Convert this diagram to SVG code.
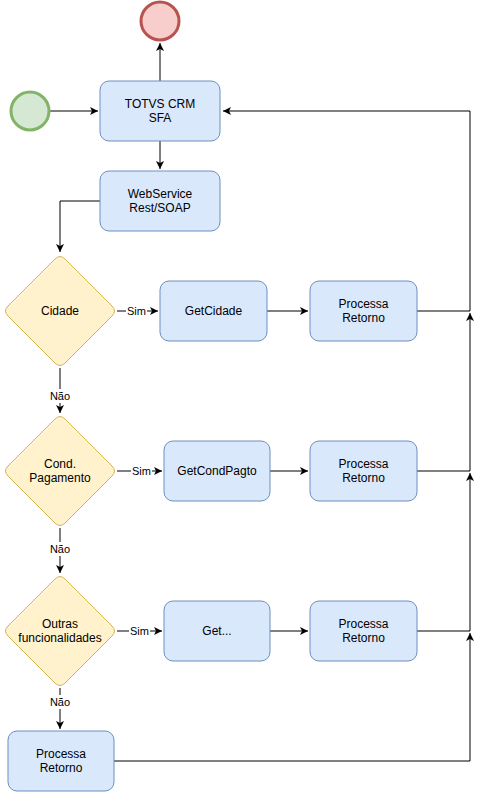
<svg xmlns="http://www.w3.org/2000/svg" width="480" height="792" viewBox="0 0 480 792">
<style>
.box{fill:#dae8fc;stroke:#6c8ebf;stroke-width:1}
.dec{fill:#fff2cc;stroke:#d6b656;stroke-width:1}
.t{font-family:"Liberation Sans",Arial,sans-serif;font-size:12px;fill:#000;text-anchor:middle}
.lbl{font-family:"Liberation Sans",Arial,sans-serif;font-size:11px;fill:#000;text-anchor:middle}
.e{fill:none;stroke:#000;stroke-width:1}
</style>
<defs>
<marker id="arr" markerUnits="userSpaceOnUse" markerWidth="10" markerHeight="10" refX="8" refY="4" orient="auto">
<path d="M0,0 L8,4 L0,8 L2,4 Z" fill="#000"/>
</marker>
</defs>
<rect width="480" height="792" fill="#fff"/>
<g id="connectors">
<path class="e" d="M50,111 L98,111" marker-end="url(#arr)"/>
<path class="e" d="M160,81 L160,43" marker-end="url(#arr)"/>
<path class="e" d="M160,141 L160,169" marker-end="url(#arr)"/>
<path class="e" d="M100,201 L60,201 L60,252" marker-end="url(#arr)"/>
<path class="e" d="M117,311 L158,311" marker-end="url(#arr)"/>
<path class="e" d="M267,311 L308,311" marker-end="url(#arr)"/>
<path class="e" d="M417,311 L470,311 L470,111 L223,111" marker-end="url(#arr)"/>
<path class="e" d="M60,368 L60,413" marker-end="url(#arr)"/>
<path class="e" d="M117,471 L162,471" marker-end="url(#arr)"/>
<path class="e" d="M270,471 L308,471" marker-end="url(#arr)"/>
<path class="e" d="M417,471 L470,471 L470,313" marker-end="url(#arr)"/>
<path class="e" d="M60,528 L60,573" marker-end="url(#arr)"/>
<path class="e" d="M117,631 L162,631" marker-end="url(#arr)"/>
<path class="e" d="M270,631 L308,631" marker-end="url(#arr)"/>
<path class="e" d="M417,631 L470,631 L470,473" marker-end="url(#arr)"/>
<path class="e" d="M60,688 L60,729" marker-end="url(#arr)"/>
<path class="e" d="M114,761 L470,761 L470,633" marker-end="url(#arr)"/>
<rect x="126" y="304" width="21" height="14" fill="#fff"/>
<text class="lbl" x="136.5" y="315">Sim</text>
<rect x="131" y="464" width="21" height="14" fill="#fff"/>
<text class="lbl" x="141.5" y="475">Sim</text>
<rect x="129" y="624" width="21" height="14" fill="#fff"/>
<text class="lbl" x="139.5" y="635">Sim</text>
<rect x="49" y="389" width="22" height="14" fill="#fff"/>
<text class="lbl" x="60" y="400">Não</text>
<rect x="49" y="542" width="22" height="14" fill="#fff"/>
<text class="lbl" x="60" y="553">Não</text>
<rect x="49" y="695" width="22" height="14" fill="#fff"/>
<text class="lbl" x="60" y="706">Não</text>
</g>
<g id="end"><circle cx="160" cy="21" r="19" fill="#f8cecc" stroke="#b85450" stroke-width="3"/></g>
<g id="start"><circle cx="30" cy="111" r="19" fill="#d5e8d4" stroke="#82b366" stroke-width="3"/></g>
<g id="totvs"><rect class="box" x="100" y="81" width="120" height="60" rx="9"/><text class="t" x="160" y="108">TOTVS CRM</text><text class="t" x="160" y="122">SFA</text></g>
<g id="webservice"><rect class="box" x="100" y="171" width="120" height="60" rx="9"/><text class="t" x="160" y="198">WebService</text><text class="t" x="160" y="212">Rest/SOAP</text></g>
<g id="cidade"><path class="dec" d="M55,259 Q60,254 65,259 L112,306 Q117,311 112,316 L65,363 Q60,368 55,363 L8,316 Q3,311 8,306 Z"/><text class="t" x="60" y="315">Cidade</text></g>
<g id="getcidade"><rect class="box" x="160" y="281" width="107" height="60" rx="9"/><text class="t" x="213.5" y="315">GetCidade</text></g>
<g id="processa1"><rect class="box" x="310" y="281" width="107" height="60" rx="9"/><text class="t" x="363.5" y="308">Processa</text><text class="t" x="363.5" y="322">Retorno</text></g>
<g id="cond"><path class="dec" d="M55,419 Q60,414 65,419 L112,466 Q117,471 112,476 L65,523 Q60,528 55,523 L8,476 Q3,471 8,466 Z"/><text class="t" x="60" y="468">Cond.</text><text class="t" x="60" y="482">Pagamento</text></g>
<g id="getcondpagto"><rect class="box" x="164" y="441" width="106" height="60" rx="9"/><text class="t" x="217" y="475">GetCondPagto</text></g>
<g id="processa2"><rect class="box" x="310" y="441" width="107" height="60" rx="9"/><text class="t" x="363.5" y="468">Processa</text><text class="t" x="363.5" y="482">Retorno</text></g>
<g id="outras"><path class="dec" d="M55,579 Q60,574 65,579 L112,626 Q117,631 112,636 L65,683 Q60,688 55,683 L8,636 Q3,631 8,626 Z"/><text class="t" x="60" y="628">Outras</text><text class="t" x="60" y="642">funcionalidades</text></g>
<g id="get"><rect class="box" x="164" y="601" width="106" height="60" rx="9"/><text class="t" x="217" y="635">Get...</text></g>
<g id="processa3"><rect class="box" x="310" y="601" width="107" height="60" rx="9"/><text class="t" x="363.5" y="628">Processa</text><text class="t" x="363.5" y="642">Retorno</text></g>
<g id="processa4"><rect class="box" x="8" y="731" width="106" height="60" rx="9"/><text class="t" x="61" y="758">Processa</text><text class="t" x="61" y="772">Retorno</text></g>
</svg>
